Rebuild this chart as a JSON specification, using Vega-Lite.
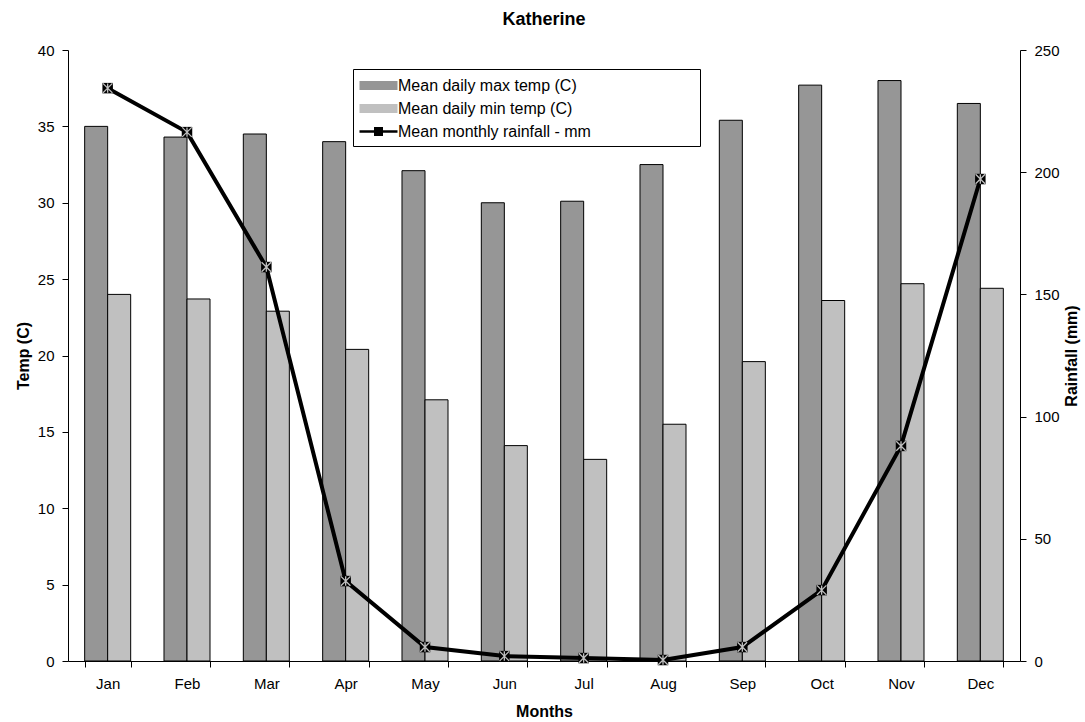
{
  "$schema": "https://vega.github.io/schema/vega-lite/v6.json",
  "width": 952,
  "height": 611,
  "autosize": {"type": "none"},
  "padding": {"left": 68, "top": 50, "right": 65, "bottom": 61},
  "background": "white",
  "config": {
    "font": "Liberation Sans",
    "view": {"stroke": null},
    "axis": {"labelFont": "Liberation Sans", "titleFont": "Liberation Sans", "labelColor": "black", "titleColor": "black", "domainColor": "black", "tickColor": "black", "grid": false, "labelFontSize": 15, "titleFontSize": 16, "titleFontWeight": "bold"}
  },
  "title": {"text": "Katherine", "fontSize": 18, "fontWeight": "bold", "font": "Liberation Sans", "color": "black", "anchor": "middle", "offset": 14},
  "data": {"values": [
    {"month": "Jan", "series": "Mean daily max temp (C)", "value": 35.0},
    {"month": "Feb", "series": "Mean daily max temp (C)", "value": 34.3},
    {"month": "Mar", "series": "Mean daily max temp (C)", "value": 34.5},
    {"month": "Apr", "series": "Mean daily max temp (C)", "value": 34.0},
    {"month": "May", "series": "Mean daily max temp (C)", "value": 32.1},
    {"month": "Jun", "series": "Mean daily max temp (C)", "value": 30.0},
    {"month": "Jul", "series": "Mean daily max temp (C)", "value": 30.1},
    {"month": "Aug", "series": "Mean daily max temp (C)", "value": 32.5},
    {"month": "Sep", "series": "Mean daily max temp (C)", "value": 35.4},
    {"month": "Oct", "series": "Mean daily max temp (C)", "value": 37.7},
    {"month": "Nov", "series": "Mean daily max temp (C)", "value": 38.0},
    {"month": "Dec", "series": "Mean daily max temp (C)", "value": 36.5},
    {"month": "Jan", "series": "Mean daily min temp (C)", "value": 24.0},
    {"month": "Feb", "series": "Mean daily min temp (C)", "value": 23.7},
    {"month": "Mar", "series": "Mean daily min temp (C)", "value": 22.9},
    {"month": "Apr", "series": "Mean daily min temp (C)", "value": 20.4},
    {"month": "May", "series": "Mean daily min temp (C)", "value": 17.1},
    {"month": "Jun", "series": "Mean daily min temp (C)", "value": 14.1},
    {"month": "Jul", "series": "Mean daily min temp (C)", "value": 13.2},
    {"month": "Aug", "series": "Mean daily min temp (C)", "value": 15.5},
    {"month": "Sep", "series": "Mean daily min temp (C)", "value": 19.6},
    {"month": "Oct", "series": "Mean daily min temp (C)", "value": 23.6},
    {"month": "Nov", "series": "Mean daily min temp (C)", "value": 24.7},
    {"month": "Dec", "series": "Mean daily min temp (C)", "value": 24.4},
    {"month": "Jan", "series": "Mean monthly rainfall - mm", "value": 234.4},
    {"month": "Feb", "series": "Mean monthly rainfall - mm", "value": 216.4},
    {"month": "Mar", "series": "Mean monthly rainfall - mm", "value": 161.2},
    {"month": "Apr", "series": "Mean monthly rainfall - mm", "value": 32.7},
    {"month": "May", "series": "Mean monthly rainfall - mm", "value": 5.7},
    {"month": "Jun", "series": "Mean monthly rainfall - mm", "value": 2.0},
    {"month": "Jul", "series": "Mean monthly rainfall - mm", "value": 1.2},
    {"month": "Aug", "series": "Mean monthly rainfall - mm", "value": 0.4},
    {"month": "Sep", "series": "Mean monthly rainfall - mm", "value": 5.7},
    {"month": "Oct", "series": "Mean monthly rainfall - mm", "value": 29.0},
    {"month": "Nov", "series": "Mean monthly rainfall - mm", "value": 88.0},
    {"month": "Dec", "series": "Mean monthly rainfall - mm", "value": 197.2}
  ]},
  "encoding": {
    "x": {"field": "month", "type": "nominal", "sort": ["Jan","Feb","Mar","Apr","May","Jun","Jul","Aug","Sep","Oct","Nov","Dec"],
      "scale": {"paddingInner": 0.42, "paddingOuter": 0.21},
      "axis": {"title": "Months", "labelAngle": 0, "tickBand": "extent", "tickSize": 6, "labelPadding": 9, "titlePadding": 12}}
  },
  "layer": [
    {
      "transform": [{"filter": "datum.series !== 'Mean monthly rainfall - mm'"}],
      "mark": {"type": "bar", "stroke": "black", "strokeWidth": 1, "opacity": 1},
      "encoding": {
        "xOffset": {"field": "series", "type": "nominal", "sort": ["Mean daily max temp (C)", "Mean daily min temp (C)"], "scale": {"paddingInner": 0, "paddingOuter": 0}},
        "y": {"field": "value", "type": "quantitative", "scale": {"domain": [0, 40], "nice": false}, "axis": {"title": "Temp (C)", "values": [0,5,10,15,20,25,30,35,40], "tickSize": 6, "labelPadding": 8, "titlePadding": 6}},
        "color": {"field": "series", "type": "nominal",
          "scale": {"domain": ["Mean daily max temp (C)", "Mean daily min temp (C)", "Mean monthly rainfall - mm"], "range": ["#969696", "#C0C0C0", "#000000"]},
          "legend": {"title": "\u00a0", "titleOrient": "right", "titlePadding": 103, "titleFontSize": 16, "orient": "none", "legendX": 285, "legendY": 19, "direction": "vertical",
            "strokeColor": "black", "fillColor": "white", "padding": 6, "labelFontSize": 16, "labelFont": "Liberation Sans", "labelColor": "black", "labelLimit": 500,
            "symbolSize": 400, "symbolOffset": 9, "rowPadding": 4, "labelOffset": 9, "symbolOpacity": 1, "symbolStrokeColor": "black", "symbolStrokeWidth": 1,
            "symbolType": "M-1.9,-0.45H1.9V0.45H-1.9Z"}
        }
      }
    },
    {
      "transform": [{"filter": "datum.series === 'Mean monthly rainfall - mm'"}],
      "layer": [
        {"mark": {"type": "line", "strokeWidth": 4, "color": "black"},
         "encoding": {
           "y": {"field": "value", "type": "quantitative", "scale": {"domain": [0, 250], "nice": false}, "axis": {"orient": "right", "title": "Rainfall (mm)", "values": [0,50,100,150,200,250], "tickSize": 6, "labelPadding": 8, "titleAngle": 270, "titlePadding": 20}}
         }},
        {"mark": {"type": "point", "filled": true, "size": 0, "opacity": 1, "stroke": "black", "strokeWidth": 1},
         "encoding": {"y": {"field": "value", "type": "quantitative"},
           "shape": {"field": "series", "type": "nominal",
             "scale": {"domain": ["Mean daily max temp (C)", "Mean daily min temp (C)", "Mean monthly rainfall - mm"], "range": ["M-1.9,-0.45H1.9V0.45H-1.9Z", "M-1.9,-0.45H1.9V0.45H-1.9Z", "M-1.9,-0.12H1.9V0.12H-1.9ZM-0.45,-0.45H0.45V0.45H-0.45Z"]},
             "legend": {"title": "\u00a0", "titleOrient": "right", "titlePadding": 103, "titleFontSize": 16, "symbolStrokeColor": "black", "symbolStrokeWidth": 1}}}},
        {"mark": {"type": "point", "shape": "square", "filled": true, "color": "black", "size": 110, "opacity": 1},
         "encoding": {"y": {"field": "value", "type": "quantitative"}}},
        {"mark": {"type": "point", "shape": "M-1,-1L1,1M-1,1L1,-1M0,-1L0,1", "filled": false, "stroke": "#C0C0C0", "strokeWidth": 1.3, "size": 90, "opacity": 1},
         "encoding": {"y": {"field": "value", "type": "quantitative"}}}
      ]
    }
  ],
  "resolve": {"scale": {"y": "independent"}}
}
